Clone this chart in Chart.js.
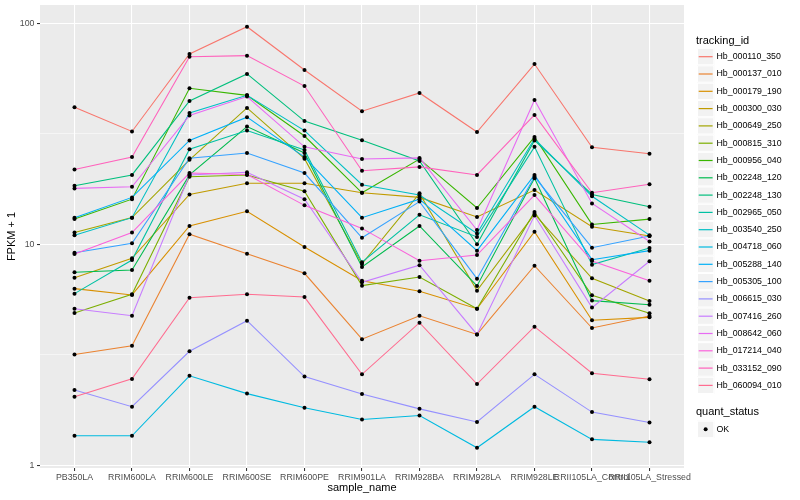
<!DOCTYPE html>
<html><head><meta charset="utf-8">
<script src="https://cdn.jsdelivr.net/npm/chart.js@4"></script>
<style>html,body{margin:0;padding:0;background:#fff}#wrap{position:relative;width:800px;height:500px}</style>
</head><body><div id="wrap"><canvas id="c"></canvas></div>
<script>
const categories = ["PB350LA","RRIM600LA","RRIM600LE","RRIM600SE","RRIM600PE","RRIM901LA","RRIM928BA","RRIM928LA","RRIM928LE","RRII105LA_Control","RRII105LA_Stressed"];
const trackingIds = ["Hb_000110_350","Hb_000137_010","Hb_000179_190","Hb_000300_030","Hb_000649_250","Hb_000815_310","Hb_000956_040","Hb_002248_120","Hb_002248_130","Hb_002965_050","Hb_003540_250","Hb_004718_060","Hb_005288_140","Hb_005305_100","Hb_006615_030","Hb_007416_260","Hb_008642_060","Hb_017214_040","Hb_033152_090","Hb_060094_010"];
const hb_000110_350 = [41.7, 32.4, 72.6, 96.5, 61.5, 40.0, 48.4, 32.2, 65.4, 27.5, 25.7];
const hb_000137_010 = [3.17, 3.47, 11.1, 9.07, 7.39, 3.72, 4.75, 3.91, 8.00, 4.18, 4.74];
const hb_000179_190 = [6.30, 5.90, 12.1, 14.1, 9.72, 6.84, 6.13, 5.11, 11.4, 4.53, 4.67];
const hb_000300_030 = [7.06, 8.64, 16.8, 18.9, 18.9, 17.1, 16.3, 13.3, 17.6, 12.0, 10.9];
const hb_000649_250 = [11.3, 13.2, 24.1, 41.4, 24.4, 8.15, 17.0, 6.17, 13.7, 7.02, 5.54];
const hb_000815_310 = [4.89, 5.94, 20.2, 20.6, 17.4, 6.50, 7.11, 5.11, 14.0, 5.88, 4.87];
const hb_000956_040 = [13.0, 16.0, 50.8, 47.2, 30.9, 17.1, 24.3, 14.6, 30.6, 12.3, 13.0];
const hb_002248_120 = [7.47, 7.65, 20.6, 34.1, 25.9, 7.89, 12.1, 6.48, 19.9, 5.56, 5.33];
const hb_002248_130 = [18.4, 20.6, 44.5, 59.0, 36.1, 29.6, 23.8, 10.0, 29.5, 16.8, 14.8];
const hb_002965_050 = [5.98, 8.49, 26.9, 32.7, 26.7, 8.29, 13.6, 10.8, 27.6, 8.09, 9.62];
const hb_003540_250 = [11.0, 13.2, 39.3, 47.2, 32.7, 18.6, 16.7, 11.2, 30.0, 16.5, 11.0];
const hb_004718_060 = [1.36, 1.36, 2.54, 2.11, 1.82, 1.61, 1.68, 1.20, 1.84, 1.31, 1.27];
const hb_005288_140 = [13.2, 16.3, 29.5, 37.6, 24.8, 13.2, 16.0, 9.36, 20.6, 8.52, 9.36];
const hb_005305_100 = [9.16, 10.1, 24.5, 25.9, 21.0, 10.7, 15.6, 6.99, 20.2, 9.65, 10.9];
const hb_006615_030 = [2.19, 1.84, 3.28, 4.51, 2.52, 2.10, 1.80, 1.57, 2.58, 1.74, 1.56];
const hb_007416_260 = [5.11, 4.75, 20.6, 21.2, 16.0, 6.73, 8.04, 3.91, 13.5, 5.17, 8.38];
const hb_008642_060 = [17.9, 18.2, 38.3, 46.6, 27.6, 24.3, 24.6, 11.6, 45.0, 15.3, 10.3];
const hb_017214_040 = [9.04, 11.3, 21.0, 20.7, 15.0, 11.8, 8.43, 8.94, 16.7, 8.40, 6.84];
const hb_033152_090 = [21.8, 24.8, 70.6, 71.4, 52.0, 21.5, 22.4, 20.6, 38.5, 17.1, 18.7];
const hb_060094_010 = [2.04, 2.46, 5.73, 5.94, 5.77, 2.58, 4.42, 2.33, 4.24, 2.61, 2.45];
const seriesValues = [hb_000110_350, hb_000137_010, hb_000179_190, hb_000300_030, hb_000649_250, hb_000815_310, hb_000956_040, hb_002248_120, hb_002248_130, hb_002965_050, hb_003540_250, hb_004718_060, hb_005288_140, hb_005305_100, hb_006615_030, hb_007416_260, hb_008642_060, hb_017214_040, hb_033152_090, hb_060094_010];
const yMajorTicks = [1, 10, 100];
const quantStatus = ["OK"];
const palette = ["#F8766D","#EA8331","#D89000","#C09B00","#A3A500","#7CAE00","#39B600","#00BB4E","#00BF7D","#00C1A3","#00BFC4","#00BAE0","#00B0F6","#35A2FF","#9590FF","#C77CFF","#E76BF3","#FA62DB","#FF62BC","#FF6C90"];

const FONT = '"Liberation Sans", Arial, Helvetica, sans-serif';
Chart.defaults.font.family = FONT;

// minor ticks at log midpoints between majors
const yTicks = [];
yMajorTicks.forEach((v, i) => {
  yTicks.push(v);
  if (i < yMajorTicks.length - 1) yTicks.push(Math.sqrt(v * yMajorTicks[i + 1]));
});
const isMajor = v => yMajorTicks.some(m => Math.abs(m - v) < 1e-9);

const POINT_R = 2.0;
const lineSets = seriesValues.map((vals, i) => ({
  type: 'line',
  label: trackingIds[i],
  data: vals.map((v, j) => ({x: j, y: v})),
  borderColor: palette[i],
  borderWidth: 1.07,
  pointRadius: 0,
  tension: 0,
  fill: false,
  order: seriesValues.length - i
}));
const pointSet = {
  type: 'line',
  label: 'OK',
  showLine: false,
  data: seriesValues.flatMap(vals => vals.map((v, j) => ({x: j, y: v}))),
  pointRadius: POINT_R,
  pointBackgroundColor: '#000',
  pointBorderWidth: 0,
  pointStyle: 'circle',
  order: -1
};

const panelBg = {
  id: 'panelBg',
  beforeDraw(chart) {
    const a = chart.chartArea, ctx = chart.ctx;
    ctx.save();
    ctx.fillStyle = '#EBEBEB';
    ctx.fillRect(a.left, a.top, a.right - a.left, a.bottom - a.top);
    ctx.restore();
  }
};

const ggLegend = {
  id: 'ggLegend',
  afterDraw(chart) {
    const ctx = chart.ctx;
    ctx.save();
    const titleX = 696, keyX = 697, keyW = 17.3, rowH = 17.3, firstCy = 56.7, labelX = 716.5;
    ctx.textAlign = 'left';
    ctx.textBaseline = 'middle';
    ctx.fillStyle = '#000';
    ctx.font = '11px ' + FONT;
    ctx.fillText('tracking_id', titleX, 40.5);
    const drawKey = (cy) => {
      const top = cy - rowH / 2;
      ctx.fillStyle = '#F2F2F2';
      ctx.fillRect(keyX, top, keyW, rowH);
      ctx.strokeStyle = '#FFFFFF';
      ctx.lineWidth = 1;
      ctx.strokeRect(keyX + 0.5, top + 0.5, keyW - 1, rowH - 1);
    };
    trackingIds.forEach((id, i) => {
      const cy = firstCy + i * rowH;
      drawKey(cy);
      ctx.strokeStyle = palette[i];
      ctx.lineWidth = 1.2;
      ctx.beginPath();
      ctx.moveTo(keyX + 1.7, cy);
      ctx.lineTo(keyX + keyW - 1.7, cy);
      ctx.stroke();
      ctx.fillStyle = '#000';
      ctx.font = '8.8px ' + FONT;
      ctx.fillText(id, labelX, cy);
    });
    ctx.font = '11px ' + FONT;
    ctx.fillStyle = '#000';
    ctx.fillText('quant_status', titleX, 412.3);
    quantStatus.forEach((q, i) => {
      const cy = 429.3 + i * rowH;
      drawKey(cy);
      ctx.fillStyle = '#000';
      ctx.beginPath();
      ctx.arc(keyX + keyW / 2, cy, POINT_R, 0, Math.PI * 2);
      ctx.fill();
      ctx.font = '8.8px ' + FONT;
      ctx.fillText(q, labelX, cy);
    });
    ctx.restore();
  }
};

new Chart(document.getElementById('c'), {
  type: 'line',
  data: {datasets: [...lineSets, pointSet]},
  plugins: [panelBg, ggLegend],
  options: {
    responsive: true,
    maintainAspectRatio: false,
    animation: false,
    events: [],
    layout: {padding: {top: 5, right: 116, left: 0, bottom: 0}},
    plugins: {legend: {display: false}, tooltip: {enabled: false}, title: {display: false}},
    scales: {
      x: {
        type: 'linear',
        min: -0.6,
        max: categories.length - 1 + 0.6,
        afterBuildTicks: s => { s.ticks = categories.map((_, i) => ({value: i})); },
        afterFit: s => { s.height = 32; s.paddingLeft = 0; s.paddingRight = 0; },
        ticks: {
          autoSkip: false, maxRotation: 0, minRotation: 0, padding: 1,
          color: '#4D4D4D', font: {size: 8.8},
          callback: v => categories[v]
        },
        grid: {color: '#FFFFFF', lineWidth: 1.07, tickLength: 3, tickColor: '#333333', tickWidth: 1.07, drawOnChartArea: true},
        border: {display: false},
        title: {display: true, text: 'sample_name', color: '#000', font: {size: 11}, padding: {top: 0, bottom: 5.4}}
      },
      y: {
        type: 'logarithmic',
        min: 0.972,
        max: 121,
        afterBuildTicks: s => { s.ticks = yTicks.map(v => ({value: v})); },
        afterFit: s => { s.width = 40; s.paddingTop = 0; s.paddingBottom = 0; },
        ticks: {
          padding: 2.5, color: '#4D4D4D', font: {size: 8.8},
          callback: v => isMajor(v) ? String(Math.round(v)) : ''
        },
        grid: {
          color: '#FFFFFF',
          lineWidth: c => (c.tick && isMajor(c.tick.value)) ? 1.07 : 0.53,
          tickLength: 3,
          tickColor: c => (c.tick && isMajor(c.tick.value)) ? '#333333' : 'rgba(0,0,0,0)',
          tickWidth: 1.07
        },
        border: {display: false},
        title: {display: true, text: 'FPKM + 1', color: '#000', font: {size: 11}, padding: {top: 5.4, bottom: 0}}
      }
    }
  }
});
</script>
</body></html>
